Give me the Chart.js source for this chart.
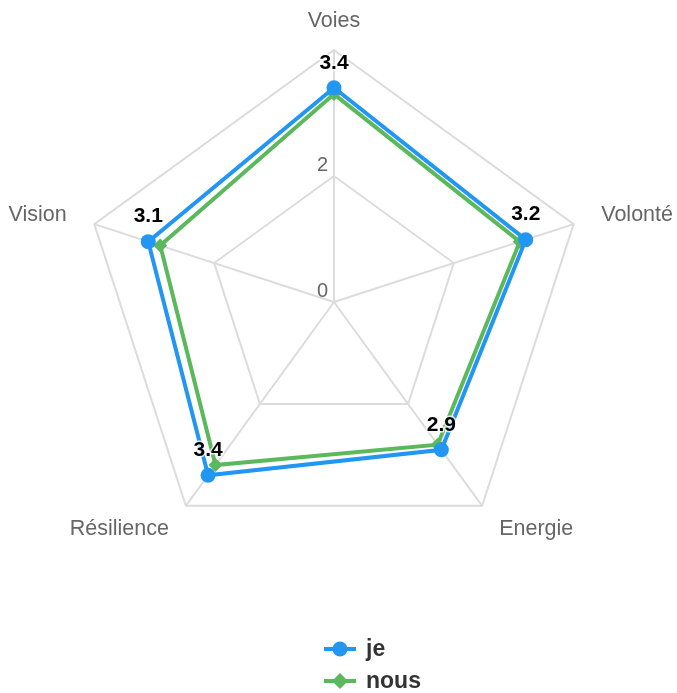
<!DOCTYPE html>
<html>
<head>
<meta charset="utf-8">
<script src="https://cdn.jsdelivr.net/npm/chart.js@4/dist/chart.umd.min.js"></script>
<style>
html,body{margin:0;padding:0;background:#fff;}
#wrap{width:677px;height:693px;}
</style>
</head>
<body>
<div id="wrap"><canvas id="c" width="677" height="693"></canvas></div>
<script>
const categories = ['Voies', 'Volonté', 'Energie', 'Résilience', 'Vision'];
const seriesJe = [3.4, 3.2, 2.9, 3.4, 3.1];
const seriesNous = [3.3, 3.1, 2.8, 3.2, 2.9];
const seriesNames = ['je', 'nous'];
const tickValues = [0, 2];
const tickLabels = ['0', '2'];
const scaleMax = 4;

const BLUE = '#2196F3';
const GREEN = '#5CB85C';
const FONT = '"Liberation Sans", Arial, Helvetica, sans-serif';

const pointLabelPlugin = {
  id: 'pointLabelsCustom',
  afterDraw(chart) {
    const scale = chart.scales.r;
    const ctx = chart.ctx;
    ctx.save();
    ctx.font = '21.5px ' + FONT;
    ctx.fillStyle = '#666';
    ctx.textBaseline = 'middle';
    chart.data.labels.forEach((lbl, i) => {
      const p = scale.getPointPosition(i, scale.drawingArea + 29);
      const dx = p.x - scale.xCenter;
      ctx.textAlign = Math.abs(dx) < 2 ? 'center' : (dx > 0 ? 'left' : 'right');
      ctx.fillText(lbl, p.x, p.y);
    });
    ctx.restore();
  }
};

const valueLabelPlugin = {
  id: 'valueLabels',
  afterDatasetsDraw(chart) {
    const ctx = chart.ctx;
    const meta = chart.getDatasetMeta(0);
    const ds = chart.data.datasets[0];
    ctx.save();
    ctx.font = 'bold 21px ' + FONT;
    ctx.textAlign = 'center';
    ctx.textBaseline = 'middle';
    ctx.lineJoin = 'round';
    ctx.strokeStyle = 'rgba(255,255,255,0.75)';
    ctx.lineWidth = 3;
    ctx.fillStyle = '#000';
    meta.data.forEach((pt, i) => {
      const t = String(ds.data[i]);
      ctx.strokeText(t, pt.x, pt.y - 25);
      ctx.fillText(t, pt.x, pt.y - 25);
    });
    ctx.restore();
  }
};

const tickLabelPlugin = {
  id: 'tickLabels',
  afterDraw(chart) {
    const scale = chart.scales.r;
    const ctx = chart.ctx;
    ctx.save();
    ctx.font = '20px ' + FONT;
    ctx.fillStyle = '#666';
    ctx.textAlign = 'right';
    ctx.textBaseline = 'alphabetic';
    tickValues.forEach((v, i) => {
      const p = scale.getPointPositionForValue(0, v);
      ctx.fillText(tickLabels[i], p.x - 6, p.y - 5);
    });
    ctx.restore();
  }
};

const legendPlugin = {
  id: 'customLegend',
  afterDraw(chart) {
    const ctx = chart.ctx;
    ctx.save();
    const rows = [649, 681];
    chart.data.datasets.forEach((ds, i) => {
      const y = rows[i];
      const x0 = 324, x1 = 356, cx = 340;
      ctx.strokeStyle = ds.borderColor;
      ctx.lineWidth = 4;
      ctx.beginPath();
      ctx.moveTo(x0, y);
      ctx.lineTo(x1, y);
      ctx.stroke();
      ctx.fillStyle = ds.borderColor;
      ctx.beginPath();
      if (ds.pointStyle === 'rectRot') {
        const r = 8;
        ctx.moveTo(cx, y - r);
        ctx.lineTo(cx + r, y);
        ctx.lineTo(cx, y + r);
        ctx.lineTo(cx - r, y);
        ctx.closePath();
      } else {
        ctx.arc(cx, y, 7.5, 0, Math.PI * 2);
      }
      ctx.fill();
      ctx.fillStyle = '#333';
      ctx.font = 'bold 23px ' + FONT;
      ctx.textAlign = 'left';
      ctx.textBaseline = 'middle';
      ctx.fillText(ds.label, 366, y + 1);
    });
    ctx.restore();
  }
};

new Chart(document.getElementById('c'), {
  type: 'radar',
  data: {
    labels: categories,
    datasets: [
      {
        label: seriesNames[0],
        data: seriesJe,
        borderColor: BLUE,
        backgroundColor: BLUE,
        borderWidth: 4,
        fill: false,
        pointStyle: 'circle',
        pointRadius: 7.5,
        pointHoverRadius: 7.5,
        pointBackgroundColor: BLUE,
        pointBorderWidth: 0
      },
      {
        label: seriesNames[1],
        data: seriesNous,
        borderColor: GREEN,
        backgroundColor: GREEN,
        borderWidth: 4,
        fill: false,
        pointStyle: 'rectRot',
        pointRadius: 7,
        pointHoverRadius: 7,
        pointBackgroundColor: GREEN,
        pointBorderWidth: 0
      }
    ]
  },
  options: {
    responsive: false,
    animation: false,
    layout: { padding: { top: 50, left: 82, right: 91, bottom: 139 } },
    plugins: {
      legend: { display: false },
      tooltip: { enabled: false }
    },
    scales: {
      r: {
        min: 0,
        max: scaleMax,
        ticks: { stepSize: 2, display: false },
        grid: { color: '#dcdcdc', lineWidth: 2 },
        angleLines: { color: '#dcdcdc', lineWidth: 2 },
        pointLabels: { display: false }
      }
    }
  },
  plugins: [pointLabelPlugin, valueLabelPlugin, tickLabelPlugin, legendPlugin]
});
</script>
</body>
</html>
